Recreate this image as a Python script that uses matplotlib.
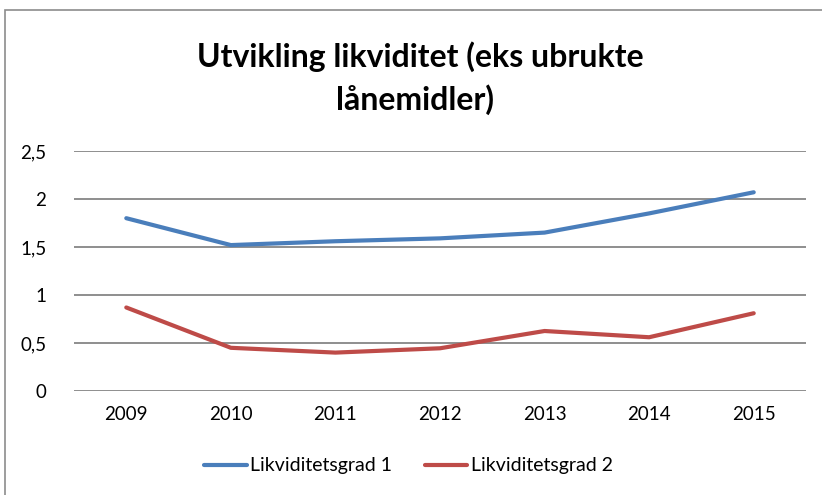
import matplotlib.pyplot as plt
from matplotlib.patches import Rectangle
from matplotlib.ticker import FuncFormatter, MultipleLocator

plt.rcParams['font.family'] = ['Lato', 'DejaVu Sans']

years = ['2009', '2010', '2011', '2012', '2013', '2014', '2015']
grad1 = [1.80, 1.52, 1.56, 1.59, 1.65, 1.85, 2.07]
grad2 = [0.87, 0.45, 0.40, 0.445, 0.625, 0.56, 0.81]
labels = ['Likviditetsgrad 1', 'Likviditetsgrad 2']

fig = plt.figure(figsize=(8.22, 4.95), dpi=100)
ax = fig.add_axes([74/822, 1-391/495, 732/822, 240/495])

# ytre ramme som i Excel
fig.patches.append(Rectangle((5/822, -0.1), 1.2, 1.1 - 10/495, transform=fig.transFigure,
                             fill=False, edgecolor='#8c8c8c', linewidth=1.2))

x = range(len(years))
ax.plot(x, grad1, color='#4a7ebb', lw=3, solid_capstyle='round', label=labels[0])
ax.plot(x, grad2, color='#be4b48', lw=3, solid_capstyle='round', label=labels[1])

ax.set_xlim(-0.5, len(years) - 0.5)
ax.set_ylim(0, 2.5)
ax.set_xticks(list(x))
ax.set_xticklabels(years)
ax.yaxis.set_major_locator(MultipleLocator(0.5))
ax.yaxis.set_major_formatter(FuncFormatter(lambda v, p: ('%g' % v).replace('.', ',')))
ax.grid(axis='y', color='#868686', lw=1.3)
ax.set_axisbelow(True)
for s in ['left', 'top', 'right', 'bottom']:
    ax.spines[s].set_visible(False)
ax.tick_params(length=0, labelsize=13.5, colors='black')
ax.tick_params(axis='y', pad=20)
ax.tick_params(axis='x', pad=11)

fig.text(0.511, 1-57/495, 'Utvikling likviditet (eks ubrukte', ha='center', va='center',
         fontsize=23, fontweight='bold')
fig.text(0.505, 1-100/495, 'lånemidler)', ha='center', va='center',
         fontsize=23, fontweight='bold')

fig.legend(loc='center', bbox_to_anchor=(0.497, 1-466/495), ncol=2, frameon=False,
           fontsize=14, handlelength=2.2, handletextpad=0.2, columnspacing=1.65)

fig.savefig('out.png', dpi=100)
